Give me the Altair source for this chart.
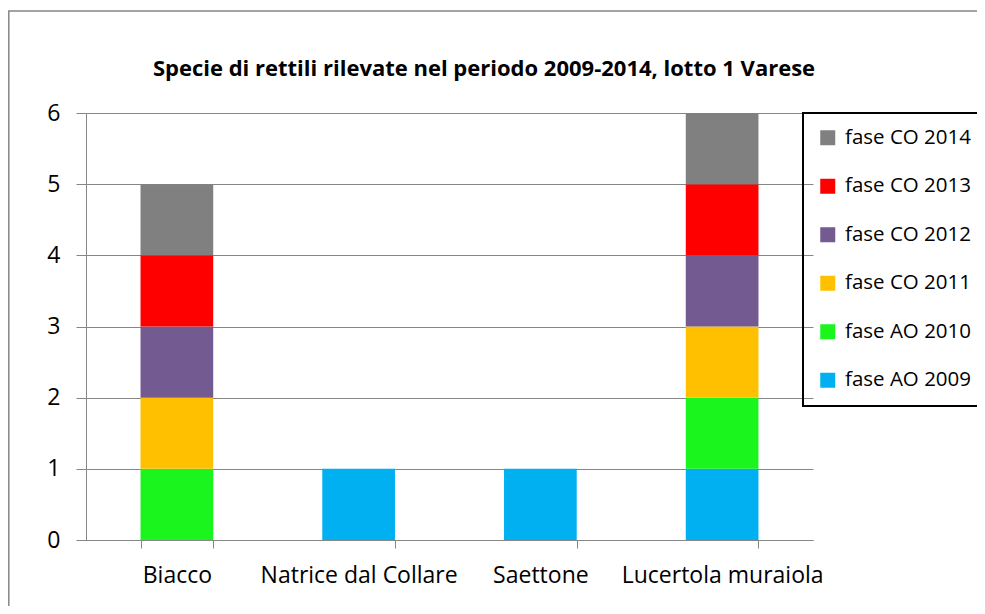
import altair as alt
import pandas as pd

species = ["Biacco", "Natrice dal Collare", "Saettone", "Lucertola muraiola"]
phases = ["fase AO 2009", "fase AO 2010", "fase CO 2011", "fase CO 2012", "fase CO 2013", "fase CO 2014"]
phase_colors = ["#00B0F0", "#1AF51E", "#FFC000", "#735A91", "#FF0000", "#808080"]

# counts per phase for each species (order of phases above)
biacco = [0, 1, 1, 1, 1, 1]
natrice = [1, 0, 0, 0, 0, 0]
saettone = [1, 0, 0, 0, 0, 0]
lucertola = [1, 1, 1, 1, 1, 1]

title_text = "Specie di rettili rilevate nel periodo 2009-2014, lotto 1 Varese"
y_ticks = [0, 1, 2, 3, 4, 5, 6]

rows = []
for sp, vals in zip(species, [biacco, natrice, saettone, lucertola]):
    for i, (ph, v) in enumerate(zip(phases, vals)):
        if v:
            rows.append({"specie": sp, "fase": ph, "n": v, "idx": i})
df = pd.DataFrame(rows)

FONT = "Open Sans"
FS = 23
LFS = 20.5
GRID = "#868686"

W, H = 727, 427
PAD_L, PAD_T = 78, 105
PAD_R = 969 - PAD_L - W
PAD_B = 598 - PAD_T - H

bars = alt.Chart(df).mark_bar().encode(
    x=alt.X("specie:N", sort=species, title=None,
            scale=alt.Scale(paddingInner=0.6, paddingOuter=0.3),
            axis=alt.Axis(labelAngle=0, tickBand="extent", tickSize=8,
                          labelPadding=16, labelFontSize=FS, labelFont=FONT,
                          labelColor="black", domainColor=GRID, tickColor=GRID,
                          grid=False, labelLimit=400)),
    y=alt.Y("n:Q", stack="zero", title=None,
            scale=alt.Scale(domain=[0, 6], nice=False),
            axis=alt.Axis(values=y_ticks, tickSize=10, labelPadding=16,
                          labelFontSize=FS, labelFont=FONT, labelColor="black",
                          domainColor=GRID, tickColor=GRID, gridColor=GRID,
                          grid=True)),
    color=alt.Color("fase:N",
                    scale=alt.Scale(domain=phases[::-1], range=phase_colors[::-1]),
                    legend=alt.Legend(title=None, orient="none", legendX=717, legendY=0,
                                      symbolType="square", symbolSize=225,
                                      symbolStrokeWidth=0, labelFontSize=LFS,
                                      labelFont=FONT, labelColor="black",
                                      labelOffset=7, rowPadding=27.5, padding=14.5,
                                      strokeColor="black", labelLimit=300,
                                      labelExpr="datum.label == 'fase AO 2009' ? '\u00a0' + datum.label : datum.label")),
    order=alt.Order("idx:Q", sort="ascending"),
)

title = alt.Chart(alt.Data(values=[{"t": title_text}])).mark_text(
    font=FONT, fontSize=22, fontWeight="bold", color="black",
    align="center", baseline="alphabetic",
).encode(text="t:N", x=alt.value(484 - 86), y=alt.value(76 - 113))

frame = alt.Chart(alt.Data(values=[{}])).mark_rect(
    fill=None, stroke=GRID, strokeWidth=1.5,
).encode(x=alt.value(-77.2), x2=alt.value(W + PAD_R + 20),
         y=alt.value(-102), y2=alt.value(H + PAD_B + 20))

chart = alt.layer(frame, bars, title).properties(
    width=W, height=H,
    autosize=alt.AutoSizeParams(type="none"),
    padding={"left": PAD_L, "top": PAD_T, "right": PAD_R, "bottom": PAD_B},
    background="white",
).configure_view(stroke=None).configure_legend(strokeWidth=2)

chart.save("out.html", embed_options={"renderer": "svg", "actions": False})
